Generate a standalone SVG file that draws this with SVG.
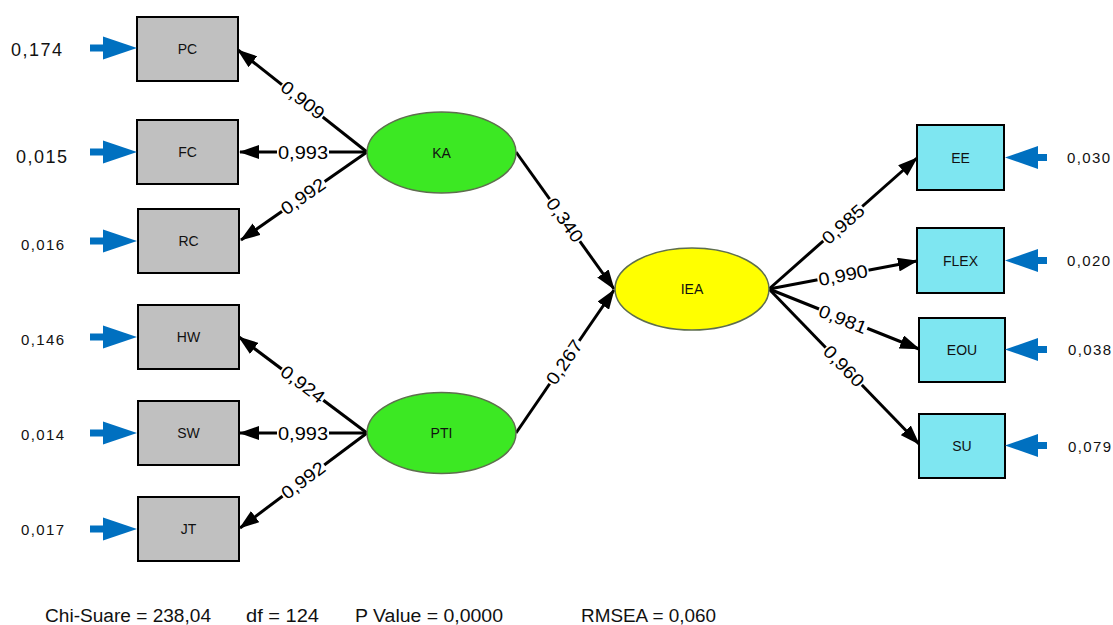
<svg xmlns="http://www.w3.org/2000/svg" width="1113" height="625" viewBox="0 0 1113 625">
<style>
.box{fill:#C0C0C0;stroke:#000;stroke-width:2}
.obs{fill:#7EE6F1;stroke:#000;stroke-width:2}
.lat{fill:#3CE823;stroke:#5E6E4E;stroke-width:1.5}
.yel{fill:#FFFF00;stroke:#5E6E4E;stroke-width:1.5}
.nl{font-family:'Liberation Sans',Arial,sans-serif;font-size:14px;fill:#111;text-anchor:middle}
.ev{font-family:'Liberation Sans',Arial,sans-serif;font-size:15px;fill:#111}
.evb{font-family:'Liberation Sans',Arial,sans-serif;font-size:18px;fill:#111}
.lbl{font-family:'Liberation Sans',Arial,sans-serif;font-size:18px;fill:#000;text-anchor:middle}
.bg{fill:#fff}
.ln{stroke:#000;stroke-width:3;fill:none;marker-end:url(#ah)}
.ft{font-family:'Liberation Sans Narrow','Liberation Sans',Arial,sans-serif;font-size:18px;fill:#111}
.err{fill:#0070C0}
</style>
<defs>
<marker id="ah" markerUnits="userSpaceOnUse" viewBox="0 0 20 14" refX="19" refY="7" markerWidth="20" markerHeight="14" orient="auto">
<path d="M0,0 L20,7 L0,14 z" fill="#000"/>
</marker>
<g id="errL"><rect x="90" y="-3.5" width="15" height="7"/><polygon points="103,-11.5 137,0 103,11.5"/></g>
<g id="errR"><rect x="1034" y="-3.5" width="13" height="7"/><polygon points="1038,-11.5 1005,0 1038,11.5"/></g>
<rect id="lb" x="-26" y="-8" width="52" height="16"/>
</defs>
<rect width="1113" height="625" fill="#fff"/>

<g id="connectors">
<line class="ln" x1="367" y1="152" x2="238" y2="50"/>
<line class="ln" x1="367" y1="152" x2="240" y2="152"/>
<line class="ln" x1="367" y1="152" x2="241" y2="240"/>
<line class="ln" x1="367" y1="433" x2="239" y2="337"/>
<line class="ln" x1="367" y1="433" x2="240" y2="433"/>
<line class="ln" x1="367" y1="433" x2="240" y2="528"/>
<line class="ln" x1="516" y1="152" x2="614" y2="289"/>
<line class="ln" x1="516" y1="433" x2="614" y2="290"/>
<line class="ln" x1="769" y1="289" x2="917" y2="158"/>
<line class="ln" x1="769" y1="289" x2="917" y2="261"/>
<line class="ln" x1="769" y1="289" x2="919" y2="349"/>
<line class="ln" x1="769" y1="289" x2="919" y2="444"/>
<g transform="translate(303,100) rotate(38.3)"><use href="#lb" class="bg"/><text class="lbl" y="6.5" textLength="50" lengthAdjust="spacingAndGlyphs">0,909</text></g>
<g transform="translate(303,152)"><use href="#lb" class="bg"/><text class="lbl" y="6.5" textLength="50" lengthAdjust="spacingAndGlyphs">0,993</text></g>
<g transform="translate(303,196) rotate(-34.9)"><use href="#lb" class="bg"/><text class="lbl" y="6.5" textLength="50" lengthAdjust="spacingAndGlyphs">0,992</text></g>
<g transform="translate(303,384) rotate(36.9)"><use href="#lb" class="bg"/><text class="lbl" y="6.5" textLength="50" lengthAdjust="spacingAndGlyphs">0,924</text></g>
<g transform="translate(303,433)"><use href="#lb" class="bg"/><text class="lbl" y="6.5" textLength="50" lengthAdjust="spacingAndGlyphs">0,993</text></g>
<g transform="translate(303,480) rotate(-36.8)"><use href="#lb" class="bg"/><text class="lbl" y="6.5" textLength="50" lengthAdjust="spacingAndGlyphs">0,992</text></g>
<g transform="translate(565,220) rotate(54.7)"><use href="#lb" class="bg"/><text class="lbl" y="6.5" textLength="50" lengthAdjust="spacingAndGlyphs">0,340</text></g>
<g transform="translate(564,362) rotate(-55.6)"><use href="#lb" class="bg"/><text class="lbl" y="6.5" textLength="50" lengthAdjust="spacingAndGlyphs">0,267</text></g>
<g transform="translate(843,224) rotate(-41.5)"><use href="#lb" class="bg"/><text class="lbl" y="6.5" textLength="50" lengthAdjust="spacingAndGlyphs">0,985</text></g>
<g transform="translate(843,275) rotate(-10.7)"><use href="#lb" class="bg"/><text class="lbl" y="6.5" textLength="50" lengthAdjust="spacingAndGlyphs">0,990</text></g>
<g transform="translate(843,319) rotate(21.8)"><use href="#lb" class="bg"/><text class="lbl" y="6.5" textLength="50" lengthAdjust="spacingAndGlyphs">0,981</text></g>
<g transform="translate(844,366) rotate(45.9)"><use href="#lb" class="bg"/><text class="lbl" y="6.5" textLength="50" lengthAdjust="spacingAndGlyphs">0,960</text></g>
</g>

<g id="PC"><rect class="box" x="137" y="17" width="101" height="64"/><text class="nl" x="187.5" y="54">PC</text>
<use href="#errL" class="err" y="48"/><text class="evb" x="11" y="56" textLength="51">0,174</text></g>
<g id="FC"><rect class="box" x="137" y="120" width="101" height="64"/><text class="nl" x="187.5" y="157">FC</text>
<use href="#errL" class="err" y="152"/><text class="evb" x="16" y="163" textLength="51">0,015</text></g>
<g id="RC"><rect class="box" x="138" y="209" width="101" height="64"/><text class="nl" x="188.5" y="246">RC</text>
<use href="#errL" class="err" y="241"/><text class="ev" x="21" y="250" textLength="43">0,016</text></g>
<g id="HW"><rect class="box" x="138" y="305" width="101" height="64"/><text class="nl" x="188.5" y="342">HW</text>
<use href="#errL" class="err" y="337"/><text class="ev" x="21" y="345" textLength="43">0,146</text></g>
<g id="SW"><rect class="box" x="138" y="401" width="101" height="64"/><text class="nl" x="188.5" y="438">SW</text>
<use href="#errL" class="err" y="433"/><text class="ev" x="21" y="440" textLength="43">0,014</text></g>
<g id="JT"><rect class="box" x="138" y="497" width="101" height="64"/><text class="nl" x="188.5" y="534">JT</text>
<use href="#errL" class="err" y="529"/><text class="ev" x="21" y="535" textLength="43">0,017</text></g>

<g id="KA"><ellipse class="lat" cx="441.5" cy="152.5" rx="74.5" ry="40.5"/><text class="nl" x="441.5" y="157.5">KA</text></g>
<g id="PTI"><ellipse class="lat" cx="441.5" cy="433" rx="74.5" ry="40.5"/><text class="nl" x="441.5" y="438">PTI</text></g>
<g id="IEA"><ellipse class="yel" cx="692" cy="289" rx="77" ry="41"/><text class="nl" x="692" y="294">IEA</text></g>

<g id="EE"><rect class="obs" x="917" y="125" width="87" height="65"/><text class="nl" x="960.5" y="162.5">EE</text>
<use href="#errR" class="err" y="157.5"/><text class="ev" x="1067" y="163" textLength="43">0,030</text></g>
<g id="FLEX"><rect class="obs" x="917" y="228" width="87" height="65"/><text class="nl" x="960.5" y="265.5">FLEX</text>
<use href="#errR" class="err" y="260.5"/><text class="ev" x="1067" y="266" textLength="43">0,020</text></g>
<g id="EOU"><rect class="obs" x="919" y="318" width="86" height="64"/><text class="nl" x="962" y="355">EOU</text>
<use href="#errR" class="err" y="349.5"/><text class="ev" x="1068" y="355" textLength="43">0,038</text></g>
<g id="SU"><rect class="obs" x="919" y="414" width="86" height="64"/><text class="nl" x="962" y="451">SU</text>
<use href="#errR" class="err" y="445.5"/><text class="ev" x="1068" y="452" textLength="43">0,079</text></g>

<g id="fit">
<text class="ft" x="45" y="622" textLength="166" lengthAdjust="spacingAndGlyphs">Chi-Suare = 238,04</text>
<text class="ft" x="246" y="622" textLength="73" lengthAdjust="spacingAndGlyphs">df = 124</text>
<text class="ft" x="355" y="622" textLength="148" lengthAdjust="spacingAndGlyphs">P Value = 0,0000</text>
<text class="ft" x="581" y="622" textLength="135" lengthAdjust="spacingAndGlyphs">RMSEA = 0,060</text>
</g>
</svg>
